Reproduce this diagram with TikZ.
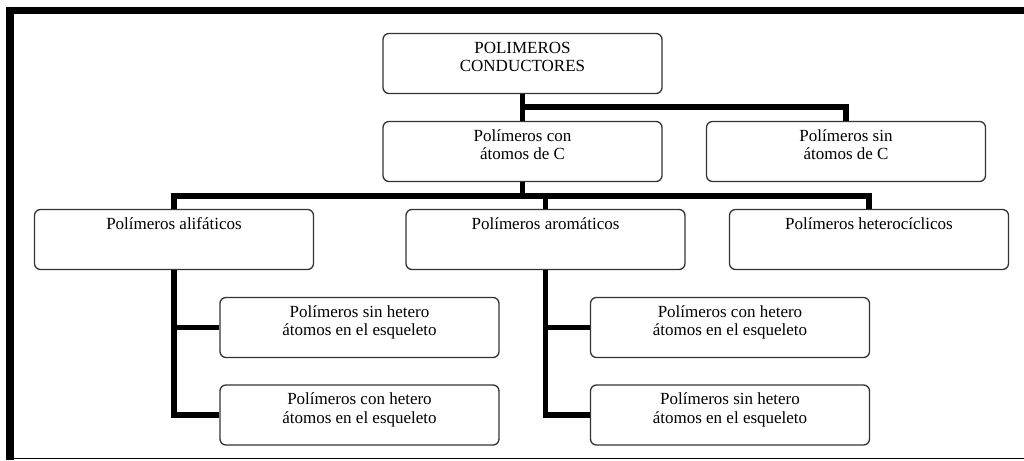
\documentclass[tikz,border=0pt]{standalone}
\usepackage{fontspec}
\setmainfont{Liberation Serif}
\begin{document}
\begin{tikzpicture}[x=1pt,y=-1pt,
  caja/.style={draw=black!80, line width=1.3pt, rounded corners=6pt, inner sep=0pt,
    minimum width=279pt, minimum height=60pt, text height=19.5pt, text depth=40.5pt,
    align=center, font=\fontsize{17}{18.5}\selectfont},
  dos/.style={text height=38pt, text depth=22pt},
  enlace/.style={line width=5.5pt}]
\useasboundingbox (0,0) rectangle (1024,460);
% marco
\draw[line width=7.5pt] (10,460) -- (10,10.5) -- (1024,10.5);
\draw[line width=1pt] (6,458.5) -- (1024,458.5);
% nivel 1 y 2
\node[caja,dos] (raiz) at (522.5,63.5) {POLIMEROS\\CONDUCTORES};
\node[caja,dos] (conC) at (522.5,151.5) {Polímeros con\\átomos de C};
\node[caja,dos] (sinC) at (846,151.5) {Polímeros sin\\átomos de C};
% nivel 3
\node[caja] (alif) at (174,239.5) {Polímeros alifáticos};
\node[caja] (arom) at (545.5,239.5) {Polímeros aromáticos};
\node[caja] (hetc) at (869,239.5) {Polímeros heterocíclicos};
% nivel 4
\node[caja,dos] (alifA) at (359.5,327.5) {Polímeros sin hetero\\átomos en el esqueleto};
\node[caja,dos] (alifB) at (359.5,415) {Polímeros con hetero\\átomos en el esqueleto};
\node[caja,dos] (aromA) at (730,327.5) {Polímeros con hetero\\átomos en el esqueleto};
\node[caja,dos] (aromB) at (730,415) {Polímeros sin hetero\\átomos en el esqueleto};
% enlaces
\coordinate (j1) at (522.5,107);
\coordinate (j2) at (522.5,196);
\draw[enlace] (raiz) -- (conC);
\draw[enlace] (j1) -| (sinC);
\draw[enlace] (conC) -- (j2);
\draw[enlace] (j2) -| (alif);
\draw[enlace] (j2) -| (arom);
\draw[enlace] (j2) -| (hetc);
\draw[enlace] (alif) |- (alifA);
\draw[enlace] (alif) |- (alifB);
\draw[enlace] (arom) |- (aromA);
\draw[enlace] (arom) |- (aromB);
\end{tikzpicture}
\end{document}
